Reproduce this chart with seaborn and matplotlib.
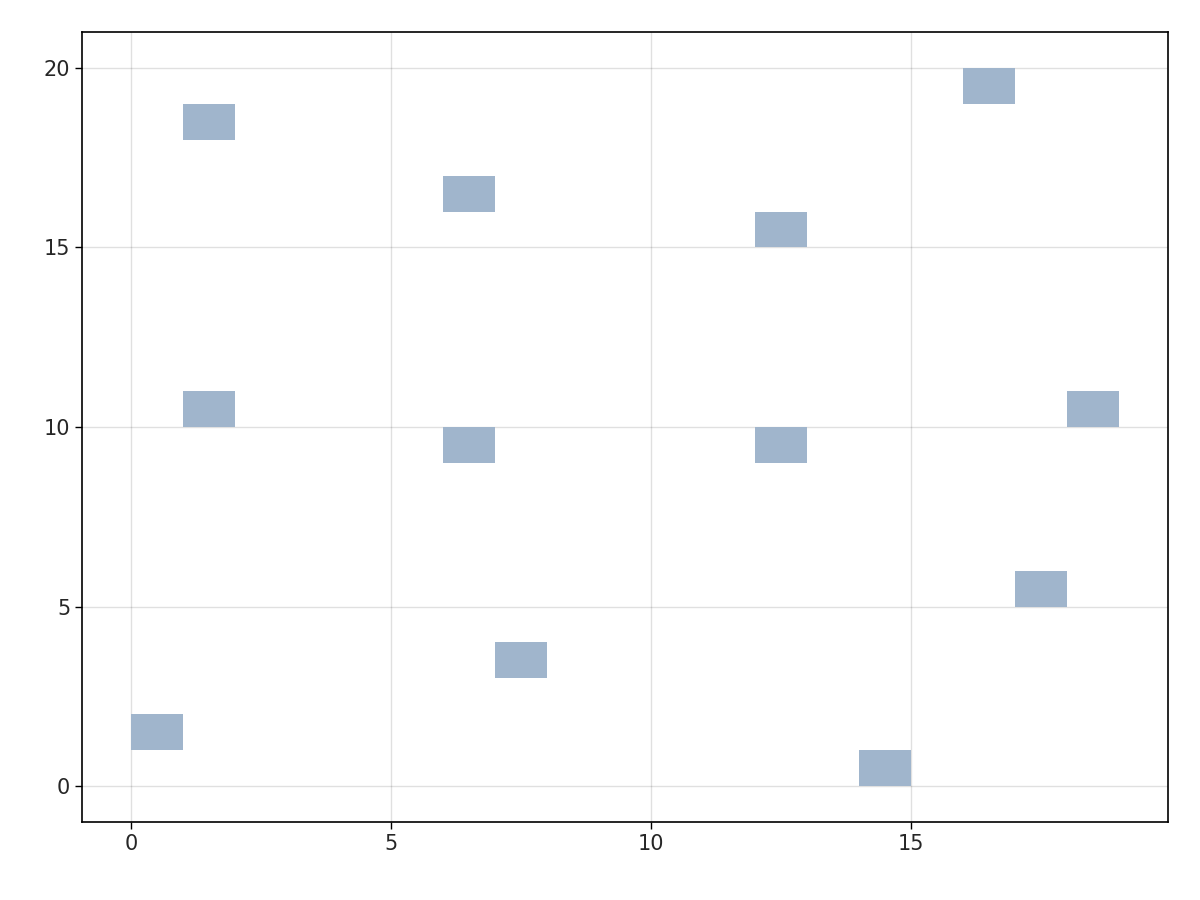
import matplotlib
matplotlib.use("Agg")
import matplotlib.pyplot as plt
import seaborn as sns
import numpy as np

cell_x = [0, 1, 1, 6, 6, 7, 12, 12, 14, 16, 17, 18]
cell_y = [1, 18, 10, 16, 9, 3, 15, 9, 0, 19, 5, 10]
xticks = [0, 5, 10, 15]
yticks = [0, 5, 10, 15, 20]

sns.set_style("white")
plt.rcParams['font.family'] = ['DejaVu Sans']
fig = plt.figure(figsize=(12, 9), dpi=100)
ax = fig.add_axes([0.0683, 0.0867, 0.905, 0.8777])
ax.bar(cell_x, 1, bottom=cell_y, width=1, align='edge', color='#a0b5cc', linewidth=0, zorder=2)
ax.set_xlim(-0.95, 19.95)
ax.set_ylim(-1, 21)
ax.set_xticks(xticks)
ax.set_yticks(yticks)
ax.grid(True, color='black', alpha=0.12, linewidth=1, zorder=0)
ax.set_axisbelow(True)
for s in ax.spines.values():
    s.set_color('black'); s.set_linewidth(1.2)
ax.tick_params(axis='both', labelsize=15, length=5, width=1, direction='out', color='black', left=True, bottom=True)
fig.savefig("out.png", dpi=100)
